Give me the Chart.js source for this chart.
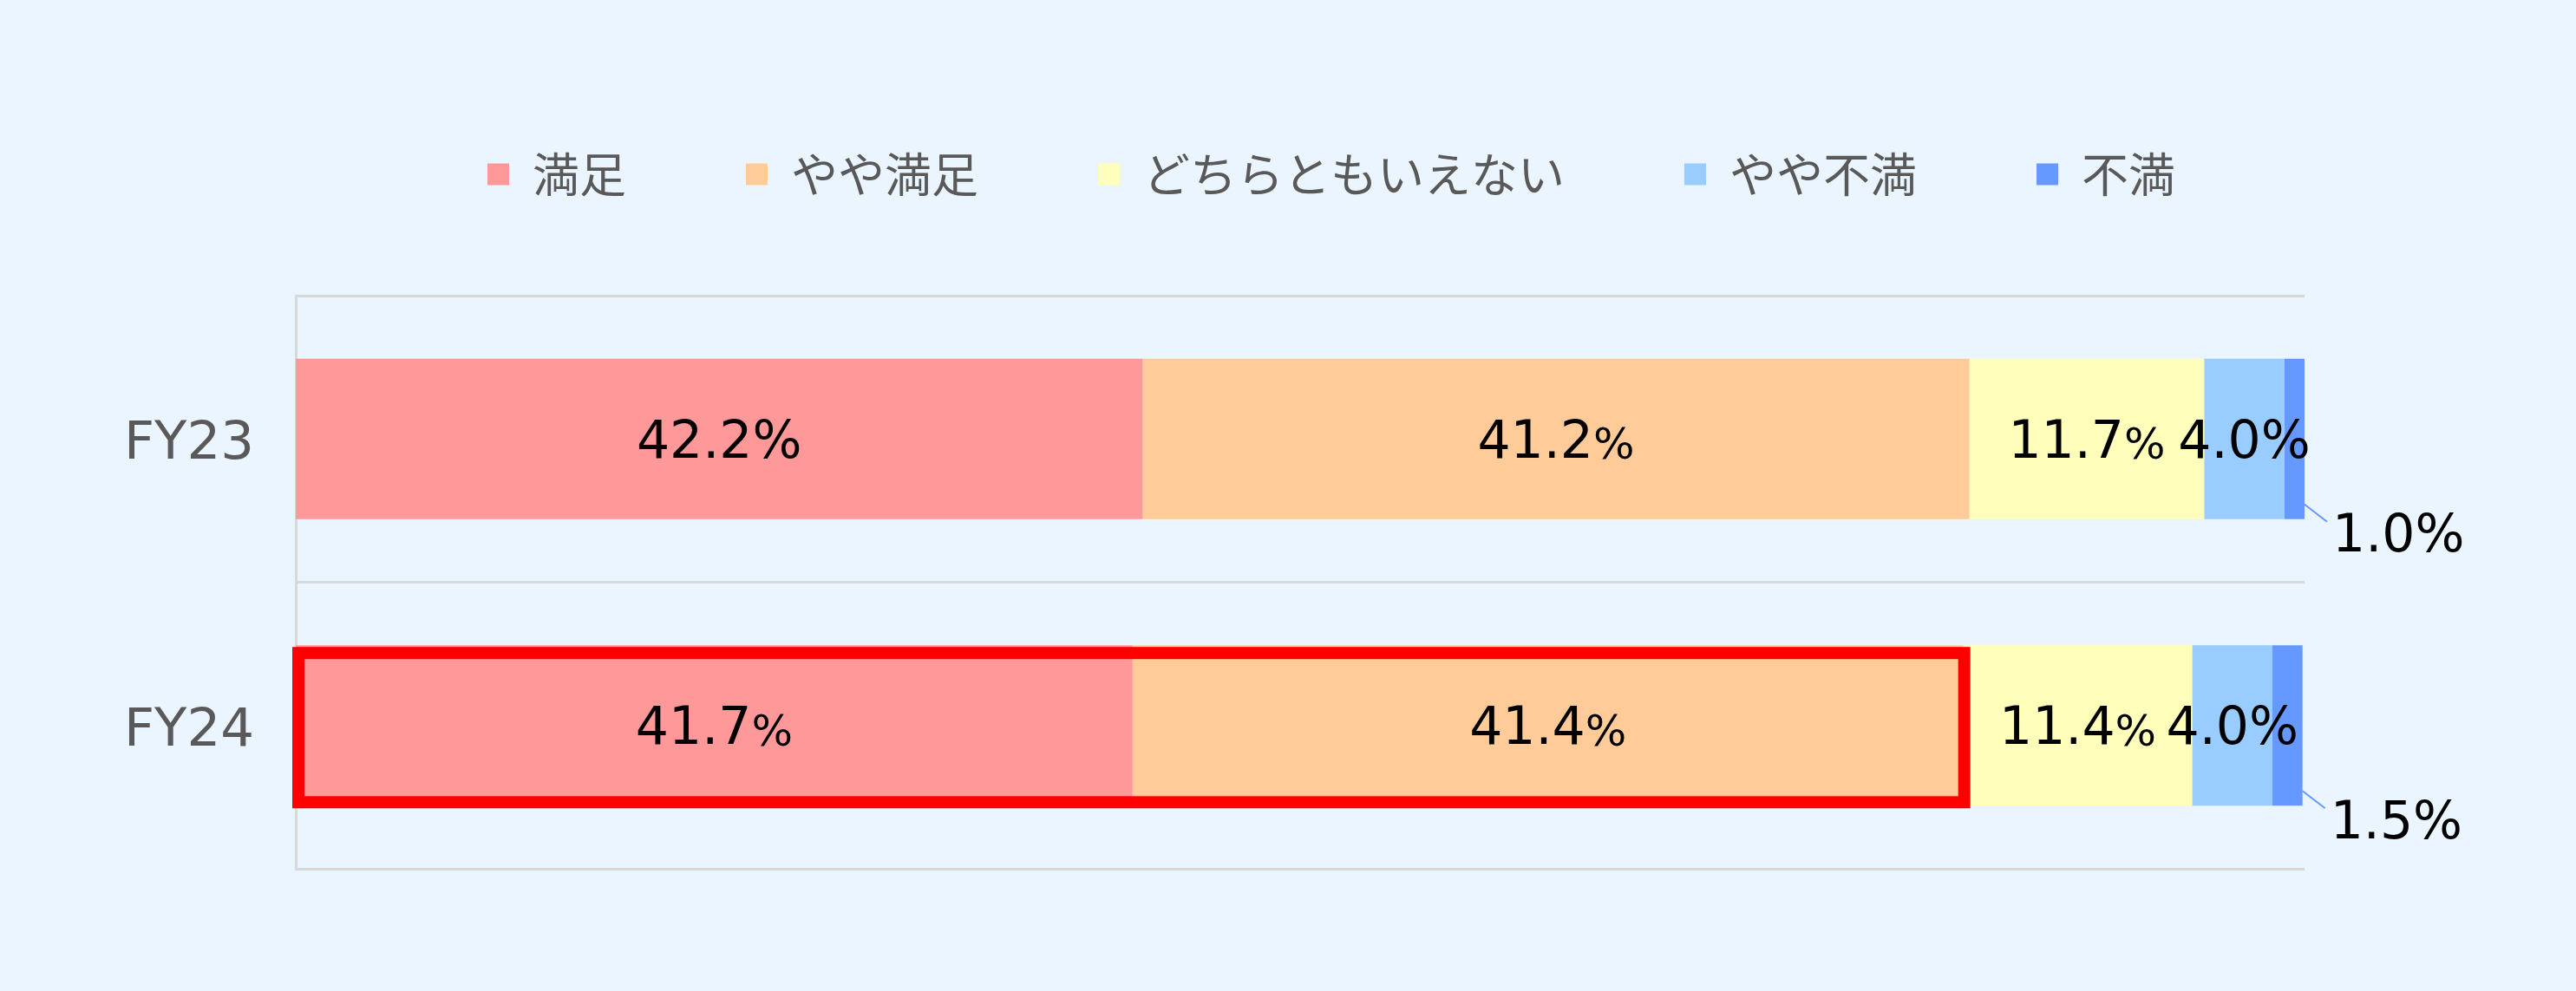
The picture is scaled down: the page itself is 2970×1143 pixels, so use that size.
<!DOCTYPE html>
<html lang="ja">
<head>
<meta charset="utf-8">
<script src="https://cdn.jsdelivr.net/npm/chart.js@4.4.1/dist/chart.umd.min.js"></script>
<style>
  html, body { margin: 0; padding: 0; background: #EBF5FF; }
  canvas { display: block; }
</style>
</head>
<body>
<canvas id="chart" width="2970" height="1143"></canvas>
<script>
const years = ['FY23', 'FY24']
const seriesNames = ['満足', 'やや満足', 'どちらともいえない', 'やや不満', '不満']
const satisfied = [42.2, 41.7]
const somewhatSatisfied = [41.2, 41.4]
const neutral = [11.7, 11.4]
const somewhatDissatisfied = [4.0, 4.0]
const dissatisfied = [1.0, 1.5]
const colors = ['#FF9999', '#FFCC99', '#FFFFBB', '#99CCFF', '#6699FF']

const JP_FONT = '"Noto Sans CJK JP", "Noto Sans", sans-serif'
const NUM_FONT = '"DejaVu Sans", sans-serif'
const seriesValues = [satisfied, somewhatSatisfied, neutral, somewhatDissatisfied, dissatisfied]

// value labels: inside segments, last series outside with a leader line
const labelPlugin = {
    id: 'valueLabels',
    afterLayout(chart) {
        // legend starts further right than Chart.js would centre it
        const lg = chart.legend
        const shift = 562 - (lg.left + lg.options.labels.padding)
        lg.left += shift
        lg.right += shift
    },
    afterDatasetsDraw(chart) {
        const ctx = chart.ctx
        ctx.save()
        ctx.textBaseline = 'middle'
        chart.data.datasets.forEach((ds, di) => {
            const meta = chart.getDatasetMeta(di)
            meta.data.forEach((el, i) => {
                const txt = ds.data[i].toFixed(1)
                ctx.fillStyle = '#000'
                if (di === seriesValues.length - 1) {
                    const bottom = el.y + el.height / 2
                    ctx.strokeStyle = colors[di]
                    ctx.lineWidth = 2
                    ctx.beginPath()
                    ctx.moveTo(el.x, bottom - 17)
                    ctx.lineTo(el.x + 26, bottom + 3)
                    ctx.stroke()
                    ctx.font = '60px ' + NUM_FONT
                    ctx.textAlign = 'left'
                    ctx.fillText(txt + '%', el.x + 32, bottom + 22)
                    return
                }
                const cx = (el.x + el.base) / 2
                const ty = el.y + 6
                const small = di < 3 && !(di === 0 && i === 0)
                const pctFont = (small ? '50px ' : '60px ') + NUM_FONT
                ctx.font = '60px ' + NUM_FONT
                const w1 = ctx.measureText(txt).width
                ctx.font = pctFont
                const w2 = ctx.measureText('%').width
                const x0 = cx - (w1 + w2) / 2
                ctx.textAlign = 'left'
                ctx.font = '60px ' + NUM_FONT
                ctx.fillText(txt, x0, ty)
                ctx.font = pctFont
                ctx.fillText('%', x0 + w1, ty + (small ? 4 : 0))
            })
        })
        // red highlight around FY24 satisfied + somewhat satisfied
        const a = chart.getDatasetMeta(0).data[1]
        const b = chart.getDatasetMeta(1).data[1]
        ctx.strokeStyle = '#FF0000'
        ctx.lineWidth = 14
        const top = a.y - a.height / 2 + 9
        const bot = a.y + a.height / 2 - 4
        ctx.strokeRect(a.base + 3, top, b.x + 1 - (a.base + 3), bot - top)
        ctx.restore()
    }
}

new Chart(document.getElementById('chart'), {
    type: 'bar',
    data: {
        labels: years,
        datasets: seriesNames.map((name, i) => ({
            label: name,
            data: seriesValues[i],
            backgroundColor: colors[i],
            borderWidth: 0,
            categoryPercentage: 1,
            barPercentage: 0.56
        }))
    },
    options: {
        indexAxis: 'y',
        responsive: false,
        devicePixelRatio: 1,
        animation: false,
        layout: { padding: { top: 36, bottom: 141, left: 0, right: 313 } },
        scales: {
            x: {
                position: 'top',
                stacked: true,
                min: 0,
                max: 100.1,
                grid: { display: false },
                border: { display: false },
                ticks: { display: false },
                afterFit: (scale) => { scale.height = 103 }
            },
            y: {
                stacked: true,
                grid: { color: '#D9D9D9', lineWidth: 3, drawTicks: false, offset: true },
                border: { color: '#D9D9D9', width: 3 },
                ticks: {
                    color: '#595959',
                    padding: 48,
                    labelOffset: 7,
                    font: { family: NUM_FONT, size: 61 }
                },
                afterFit: (scale) => { scale.width = 341 }
            }
        },
        plugins: {
            legend: {
                position: 'top',
                align: 'start',
                labels: {
                    color: '#595959',
                    boxWidth: 25,
                    boxHeight: 25,
                    padding: 138,
                    font: { family: JP_FONT, size: 54 }
                }
            },
            tooltip: { enabled: false }
        }
    },
    plugins: [labelPlugin]
})
</script>
</body>
</html>
